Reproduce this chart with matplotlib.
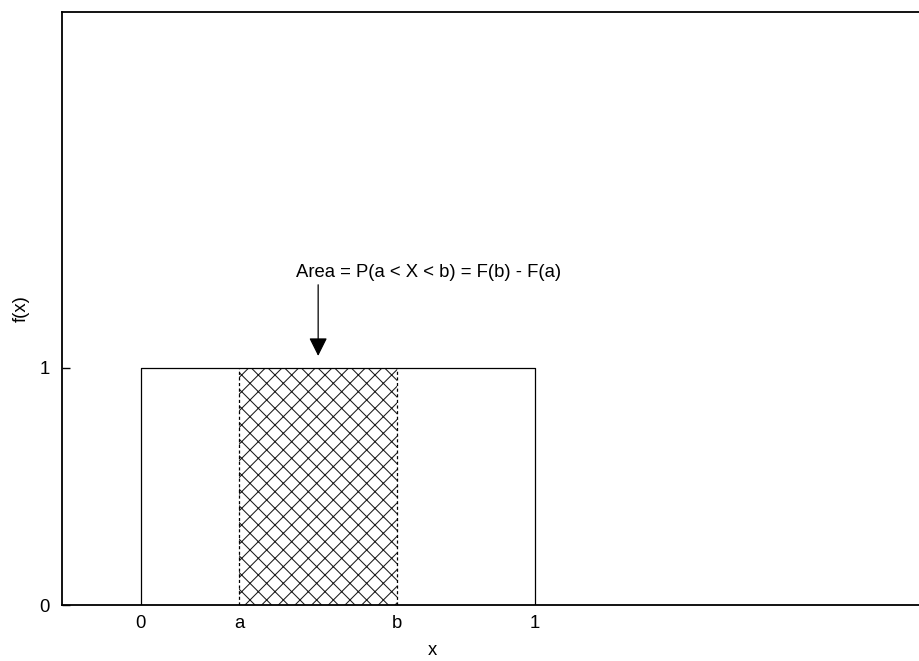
import matplotlib.pyplot as plt
import numpy as np

plt.rcParams['font.family'] = ['Liberation Sans', 'DejaVu Sans']

# uniform density on [0, 1], shaded between a and b
support = [0.0, 1.0]
density = 1.0
a_val = 0.25
b_val = 0.65

x_ticks = [0.0, a_val, b_val, 1.0]
x_tick_labels = ["0", "a", "b", "1"]
y_ticks = [0, 1]
y_tick_labels = ["0", "1"]

label_text = "Area = P(a < X < b) = F(b) - F(a)"
label_pos = [0.395, 1.4]
arrow_start = [0.45, 1.35]
arrow_end = [0.45, 1.05]

fs = 13.3

fig = plt.figure(figsize=(9.2, 6.61), dpi=100)
ax = fig.add_axes([62 / 920, 56 / 661, 867 / 920, 593 / 661])

# the density curve: box from 0 to 1
box_x = [support[0], support[0], support[1], support[1]]
box_y = [0, density, density, 0]
ax.plot(box_x, box_y, color="black", linewidth=0.9, zorder=3)

# shaded area: hatch, then a dashed outline on the sides
plt.rcParams['hatch.linewidth'] = 0.75
ax.fill_between([a_val, b_val], 0, density, facecolor="white", edgecolor="#1a1a1a",
                hatch="xx", linewidth=0)
for xv in [a_val, b_val]:
    ax.plot([xv, xv], [0, density], color="black", linewidth=0.9,
            linestyle=(0, (2.5, 2)), zorder=3)

ax.annotate("", xy=arrow_end, xytext=arrow_start,
            arrowprops=dict(arrowstyle="-|>", color="black", lw=0.9,
                            mutation_scale=28, shrinkA=0, shrinkB=0))
ax.text(label_pos[0], label_pos[1], label_text, fontsize=fs, ha="left", va="center")

ax.set_xlim(-0.2, 2.0)
ax.set_ylim(0, 2.5)
ax.set_xticks(x_ticks)
ax.set_xticklabels(x_tick_labels)
ax.set_yticks(y_ticks)
ax.set_yticklabels(y_tick_labels)
ax.tick_params(axis="x", length=0, pad=7, labelsize=fs)
ax.tick_params(axis="y", direction="in", length=6, width=1, pad=9, labelsize=fs)

for sp in ax.spines.values():
    sp.set_linewidth(1.3)

ax.set_xlabel("x", fontsize=fs)
ax.xaxis.set_label_coords(0.427, -0.063)
ax.set_ylabel("f(x)", fontsize=fs)
ax.yaxis.set_label_coords(-0.037, 0.5)

fig.savefig("out.png", dpi=100)
